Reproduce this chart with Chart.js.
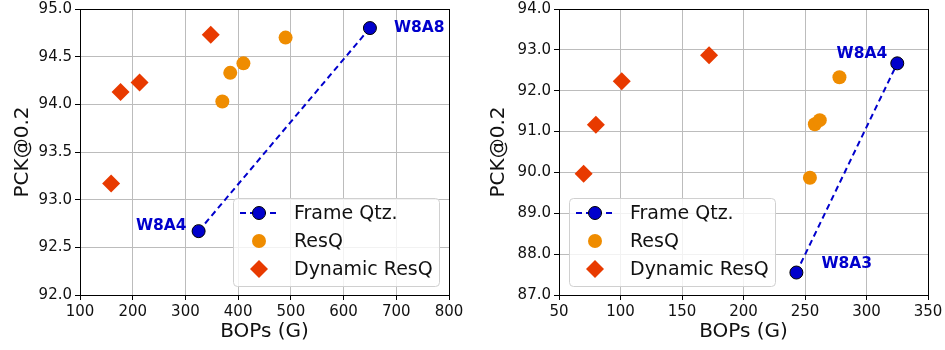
<!DOCTYPE html>
<html>
<head>
<meta charset="utf-8">
<script src="https://cdn.jsdelivr.net/npm/chart.js@4.4.3/dist/chart.umd.min.js"></script>
<style>
  html, body { margin: 0; padding: 0; background: #fff; }
  #wrap { position: relative; width: 945px; height: 350px; overflow: hidden; }
  .panel { position: absolute; top: 0; height: 350px; }
</style>
</head>
<body>
<div id="wrap">
  <div class="panel" style="left:0;width:470px"><canvas id="left" width="470" height="350"></canvas></div>
  <div class="panel" style="left:470px;width:475px"><canvas id="right" width="475" height="350"></canvas></div>
</div>
<script>
// left panel: W8A4 / W8A8
const leftXTicks = [100, 200, 300, 400, 500, 600, 700, 800];
const leftYTicks = [92.0, 92.5, 93.0, 93.5, 94.0, 94.5, 95.0];
const leftFrameBops = [325, 650];
const leftFramePck = [92.67, 94.80];
const leftFrameTags = ['W8A4', 'W8A8'];
const leftResqBops = [370, 385, 410, 490];
const leftResqPck = [94.03, 94.33, 94.43, 94.70];
const leftDynBops = [159, 177, 213, 348];
const leftDynPck = [93.17, 94.13, 94.23, 94.73];

// right panel: W8A3 / W8A4
const rightXTicks = [50, 100, 150, 200, 250, 300, 350];
const rightYTicks = [87.0, 88.0, 89.0, 90.0, 91.0, 92.0, 93.0, 94.0];
const rightFrameBops = [243, 325];
const rightFramePck = [87.55, 92.67];
const rightFrameTags = ['W8A3', 'W8A4'];
const rightResqBops = [254, 258, 262, 278];
const rightResqPck = [89.87, 91.18, 91.28, 92.33];
const rightDynBops = [70, 80, 101, 172];
const rightDynPck = [89.97, 91.17, 92.23, 92.87];

const seriesLabels = ['Frame Qtz.', 'ResQ', 'Dynamic ResQ'];

const FONT = "'DejaVu Sans', sans-serif";
const BLUE = '#0000cc';
const ORANGE = '#ef8c00';
const RED = '#e83a00';

function pts(xs, ys) {
  return xs.map((x, i) => ({ x, y: ys[i] }));
}

const framePlugin = {
  id: 'frame',
  afterDatasetsDraw(chart) {
    const { ctx, chartArea: a } = chart;
    ctx.save();
    ctx.strokeStyle = '#000';
    ctx.lineWidth = 1;
    ctx.strokeRect(Math.round(a.left) + 0.5, Math.round(a.top) + 0.5,
      Math.round(a.right - a.left), Math.round(a.bottom - a.top));
    ctx.restore();
  }
};

const tagPlugin = {
  id: 'tags',
  afterDatasetsDraw(chart, args, opts) {
    const { ctx, scales } = chart;
    const ds = chart.data.datasets[0].data;
    ctx.save();
    ctx.fillStyle = BLUE;
    ctx.font = 'bold 15.5px ' + FONT;
    ctx.textBaseline = 'middle';
    opts.tags.forEach((t) => {
      const p = ds[t.index];
      const x = scales.x.getPixelForValue(p.x) + t.dx;
      const y = scales.y.getPixelForValue(p.y) + t.dy;
      ctx.textAlign = t.align;
      ctx.fillText(t.text, x, y);
    });
    ctx.restore();
  }
};

const legendPlugin = {
  id: 'boxLegend',
  afterDraw(chart, args, opts) {
    const { ctx, chartArea: a } = chart;
    const w = 206, h = 88;
    const bx = opts.corner === 'right' ? a.right - 10 - w : a.left + 10;
    const by = a.bottom - 9 - h;
    ctx.save();
    ctx.beginPath();
    ctx.roundRect(bx + 0.5, by + 0.5, w, h, 4);
    ctx.fillStyle = 'rgba(255,255,255,0.8)';
    ctx.fill();
    ctx.strokeStyle = '#d0d0d0';
    ctx.lineWidth = 1;
    ctx.stroke();
    ctx.font = '19px ' + FONT;
    ctx.textBaseline = 'middle';
    ctx.textAlign = 'left';
    chart.data.datasets.forEach((d, i) => {
      const y = by + 15 + i * 28;
      const mx = bx + 26;
      if (d.showLine) {
        ctx.save();
        ctx.strokeStyle = d.borderColor;
        ctx.lineWidth = d.borderWidth;
        ctx.setLineDash(d.borderDash);
        ctx.beginPath();
        ctx.moveTo(bx + 7, y);
        ctx.lineTo(bx + 45, y);
        ctx.stroke();
        ctx.restore();
      }
      ctx.fillStyle = d.pointBackgroundColor;
      ctx.strokeStyle = d.pointBorderColor;
      ctx.lineWidth = d.pointBorderWidth;
      Chart.helpers.drawPoint(ctx, {
        pointStyle: d.pointStyle,
        radius: d.pointRadius,
        borderWidth: d.pointBorderWidth,
        rotation: 0
      }, mx, y);
      ctx.fillStyle = '#111';
      ctx.fillText(d.label, bx + 61, y + 1);
    });
    ctx.restore();
  }
};

function buildChart(id, cfg) {
  const tickFont = { family: FONT, size: 15 };
  const titleFont = { family: FONT, size: 20 };
  const grid = { color: '#bcbcbc', lineWidth: 1, tickColor: '#000', tickLength: 5, tickWidth: 1 };
  return new Chart(document.getElementById(id), {
    type: 'scatter',
    data: {
      datasets: [
        {
          label: seriesLabels[0],
          data: pts(cfg.frameX, cfg.frameY),
          showLine: true,
          borderColor: BLUE,
          borderWidth: 2,
          borderDash: [6, 4],
          pointStyle: 'circle',
          pointRadius: 6.5,
          pointBackgroundColor: BLUE,
          pointBorderColor: '#000',
          pointBorderWidth: 1
        },
        {
          label: seriesLabels[1],
          data: pts(cfg.resqX, cfg.resqY),
          showLine: false,
          pointStyle: 'circle',
          pointRadius: 7,
          pointBackgroundColor: ORANGE,
          pointBorderColor: ORANGE,
          pointBorderWidth: 0
        },
        {
          label: seriesLabels[2],
          data: pts(cfg.dynX, cfg.dynY),
          showLine: false,
          pointStyle: 'rectRot',
          pointRadius: 9,
          pointBackgroundColor: RED,
          pointBorderColor: RED,
          pointBorderWidth: 0
        }
      ]
    },
    options: {
      responsive: false,
      animation: false,
      events: [],
      layout: { padding: { top: 7, right: cfg.padRight, bottom: 0, left: 0 } },
      plugins: {
        legend: { display: false },
        tooltip: { enabled: false },
        tags: { tags: cfg.tags },
        boxLegend: { corner: cfg.legendCorner }
      },
      scales: {
        x: {
          type: 'linear',
          min: cfg.xTicks[0],
          max: cfg.xTicks[cfg.xTicks.length - 1],
          afterBuildTicks: (s) => { s.ticks = cfg.xTicks.map((v) => ({ value: v })); },
          afterFit: (s) => { s.height = 55; s.paddingLeft = 0; s.paddingRight = 0; },
          ticks: { font: tickFont, color: '#111', padding: 3, maxRotation: 0, callback: (v) => String(v) },
          grid: grid,
          border: { display: false },
          title: { display: true, text: 'BOPs (G)', font: titleFont, color: '#111', padding: { top: 0, bottom: 6 } }
        },
        y: {
          type: 'linear',
          min: cfg.yTicks[0],
          max: cfg.yTicks[cfg.yTicks.length - 1],
          afterBuildTicks: (s) => { s.ticks = cfg.yTicks.map((v) => ({ value: v })); },
          afterFit: (s) => { s.width = cfg.yWidth; s.paddingTop = 0; s.paddingBottom = 0; },
          ticks: { font: tickFont, color: '#111', padding: 3, callback: (v) => Number(v).toFixed(1) },
          grid: grid,
          border: { display: false },
          title: { display: true, text: 'PCK@0.2', font: titleFont, color: '#111', padding: { top: cfg.yTitlePad, bottom: 0 } }
        }
      }
    },
    plugins: [framePlugin, tagPlugin, legendPlugin]
  });
}

buildChart('left', {
  xTicks: leftXTicks, yTicks: leftYTicks,
  frameX: leftFrameBops, frameY: leftFramePck,
  resqX: leftResqBops, resqY: leftResqPck,
  dynX: leftDynBops, dynY: leftDynPck,
  yWidth: 80, padRight: 21, yTitlePad: 11,
  legendCorner: 'right',
  tags: [
    { text: leftFrameTags[0], index: 0, dx: -12, dy: -5, align: 'right' },
    { text: leftFrameTags[1], index: 1, dx: 24, dy: 0, align: 'left' }
  ]
});

buildChart('right', {
  xTicks: rightXTicks, yTicks: rightYTicks,
  frameX: rightFrameBops, frameY: rightFramePck,
  resqX: rightResqBops, resqY: rightResqPck,
  dynX: rightDynBops, dynY: rightDynPck,
  yWidth: 89, padRight: 17, yTitlePad: 17,
  legendCorner: 'left',
  tags: [
    { text: rightFrameTags[0], index: 0, dx: 25, dy: -9, align: 'left' },
    { text: rightFrameTags[1], index: 1, dx: -10, dy: -9, align: 'right' }
  ]
});
</script>
</body>
</html>
